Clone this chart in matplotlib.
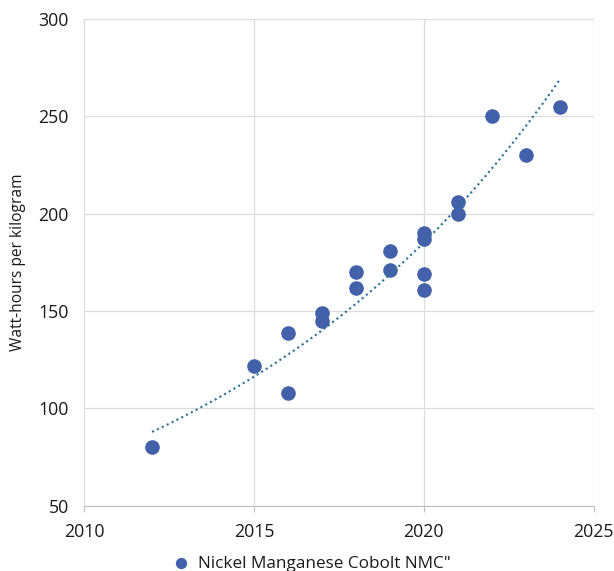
import numpy as np
import matplotlib.pyplot as plt
import matplotlib.ticker as tick

plt.rcParams['font.family'] = ['Open Sans', 'DejaVu Sans']

# NMC cell energy density by year
years = [2012, 2015, 2016, 2016, 2017, 2017, 2018, 2018, 2019, 2019,
         2020, 2020, 2020, 2020, 2021, 2021, 2022, 2023, 2024]
wh_per_kg = [80, 122, 139, 108, 149, 145, 170, 162, 181, 171,
             190, 187, 169, 161, 206, 200, 250, 230, 255]

# exponential trendline, ln(y) = a + b*x
b, a = np.polyfit(years, np.log(wh_per_kg), 1)
xt = np.linspace(min(years), max(years), 200)
yt = np.exp(a + b * xt)

fig = plt.figure(figsize=(6.14, 5.71), dpi=100)
ax = fig.add_axes([0.137, 0.114, 0.830, 0.853])

ax.scatter(years, wh_per_kg, s=90, color='#4361AA', zorder=3,
           label='Nickel Manganese Cobolt NMC"')
ax.plot(xt, yt, linestyle=(0, (1, 1.6)), color='#2A6F95', lw=1.5, zorder=4)

ax.set_xlim(2010, 2025)
ax.set_ylim(50, 300)
ax.xaxis.set_major_locator(tick.MultipleLocator(5))
ax.yaxis.set_major_locator(tick.MultipleLocator(50))
ax.grid(True, color='#DCDCDC', lw=0.9)
ax.set_axisbelow(True)

for s in ['top', 'right', 'left']:
    ax.spines[s].set_visible(False)
ax.spines['bottom'].set_color('#BFBFBF')
ax.tick_params(axis='y', length=0, labelsize=12.8, pad=11, labelcolor='#1a1a1a')
ax.tick_params(axis='x', length=4.3, color='#BFBFBF', labelsize=12.8, pad=8,
               labelcolor='#1a1a1a')
ax.set_ylabel('Watt-hours per kilogram', fontsize=11.2, color='#1a1a1a', labelpad=9)

fig.legend(loc='lower center', bbox_to_anchor=(0.5, -0.028), frameon=False,
           fontsize=12.3, handletextpad=0.0, markerscale=0.75,
           labelcolor='#1a1a1a')

fig.savefig('out.png', dpi=100)
